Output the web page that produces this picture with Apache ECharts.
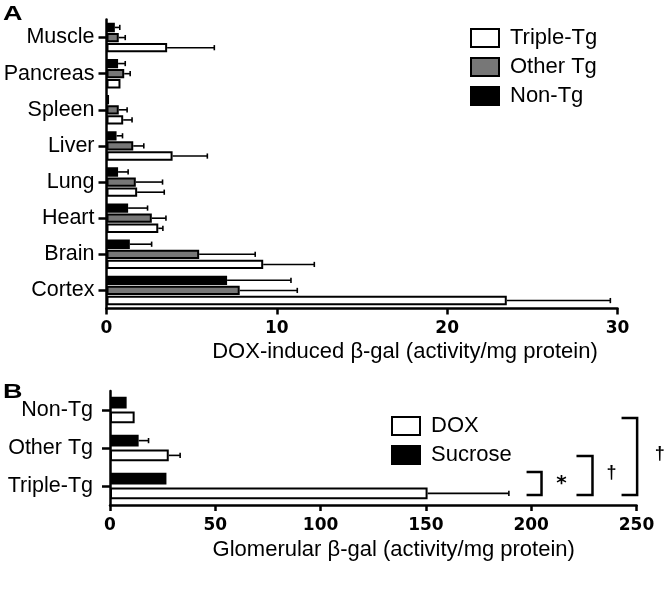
<!DOCTYPE html>
<html><head><meta charset="utf-8">
<script src="https://cdn.jsdelivr.net/npm/echarts@6/dist/echarts.min.js"></script>
<style>html,body{margin:0;padding:0;background:#fff}#c{width:671px;height:589px}</style>
</head><body><div id="c"></div>
<script>
// ---------- Panel A data ----------
const tissues = ['Muscle','Pancreas','Spleen','Liver','Lung','Heart','Brain','Cortex'];
const nonTgA      = [0.49, 0.68, 0.15, 0.59, 0.68, 1.27, 1.37, 7.08];
const nonTgAErr   = [0.29, 0.42, 0,    0.35, 0.59, 1.14, 1.28, 3.75];
const otherTgA    = [0.72, 1.04, 0.72, 1.57, 1.72, 2.66, 5.44, 7.82];
const otherTgAErr = [0.38, 0.35, 0.49, 0.62, 1.57, 0.83, 3.29, 3.38];
const tripleTgA   = [3.56, 0.82, 0.98, 3.88, 1.80, 3.04, 9.20, 23.5];
const tripleTgAErr= [2.77, 0,    0.52, 2.04, 1.59, 0.27, 3.00, 6.08];
const ticksA = [0, 10, 20, 30];
// ---------- Panel B data ----------
const groupsB = ['Non-Tg','Other Tg','Triple-Tg'];
const sucroseB    = [7.9, 13.6, 26.8];
const sucroseBErr = [0,   4.7,  0];
const doxB        = [11.7, 27.9, 150.8];
const doxBErr     = [0,    5.4,  38.6];
const ticksB = [0, 50, 100, 150, 200, 250];

const FONT = '"Liberation Sans", Arial, Helvetica, sans-serif';
const BFONT = '"DejaVu Sans", sans-serif';
const GAP_A = {cg: 0.18, bg: 0.08};
const GAP_B = {cg: 0.30, bg: 0.25};

function bar(name, data, color, idx, gap) {
  return {type: 'bar', name, data, xAxisIndex: idx, yAxisIndex: idx,
    barCategoryGap: (gap.cg * 100) + '%', barGap: (gap.bg * 100) + '%',
    itemStyle: {color, borderColor: '#000', borderWidth: 2}, silent: true, z: 2};
}
function err(name, vals, errs, k, n, idx, gap) {
  return {type: 'custom', name: name + ' SEM', xAxisIndex: idx, yAxisIndex: idx, z: 3, silent: true,
    data: vals.map((v, i) => [i, v, errs[i]]),
    encode: {x: 1, y: 0},
    renderItem(params, api) {
      const i = api.value(0), v = api.value(1), e = api.value(2);
      if (!e) return null;
      const band = api.size([0, 1])[1];
      const w = band * (1 - gap.cg) / (n + (n - 1) * gap.bg);
      const total = n * w + (n - 1) * w * gap.bg;
      const p0 = api.coord([v, i]);
      const p1 = api.coord([v + e, i]);
      const y = p0[1] - total / 2 + k * w * (1 + gap.bg) + w / 2;
      return {type: 'group', children: [
        {type: 'line', shape: {x1: p0[0], y1: y, x2: p1[0], y2: y}, style: {stroke: '#000', lineWidth: 1.6}},
        {type: 'line', shape: {x1: p1[0], y1: y - 2.6, x2: p1[0], y2: y + 2.6}, style: {stroke: '#000', lineWidth: 1.6}}
      ]};
    }};
}
function valueAxis(idx, ticks, name, nameGap, shift) {
  return {gridIndex: idx, type: 'value', min: ticks[0], max: ticks[ticks.length - 1], interval: ticks[1] - ticks[0],
    axisLine: {show: true, lineStyle: {color: '#000', width: 2.5}},
    axisTick: {show: true, length: 6, lineStyle: {color: '#000', width: 2.5}},
    axisLabel: {color: '#000', fontFamily: BFONT, fontWeight: 'bold', fontSize: 17, margin: 12},
    splitLine: {show: false},
    name, nameLocation: 'middle', nameGap,
    nameTextStyle: {fontFamily: FONT, fontSize: 22, color: '#000', padding: [0, 0, 0, shift]}};
}
function catAxis(idx, cats, margin) {
  return {gridIndex: idx, type: 'category', data: cats, inverse: true,
    axisLine: {show: true, lineStyle: {color: '#000', width: 2.5}},
    axisTick: {show: true, alignWithLabel: true, length: 8, lineStyle: {color: '#000', width: 2.5}},
    axisLabel: {color: '#000', fontFamily: FONT, fontSize: 21.5, margin}};
}
const legendBase = {orient: 'vertical', itemWidth: 28, itemHeight: 18, itemGap: 7, padding: 0, icon: 'rect',
  selectedMode: false, itemStyle: {borderColor: '#000', borderWidth: 2},
  textStyle: {fontFamily: FONT, fontSize: 22, color: '#000', padding: [0, 0, 0, 6]}};

const chart = echarts.init(document.getElementById('c'), null, {renderer: 'canvas'});
const letters = [
  {type: 'text', x: 3, y: 4.5, scaleX: 1.35, style: {text: 'A', font: 'bold 20px "Liberation Sans"', fill: '#000', verticalAlign: 'top'}},
  {type: 'text', x: 3, y: 382, scaleX: 1.35, style: {text: 'B', font: 'bold 20px "Liberation Sans"', fill: '#000', verticalAlign: 'top'}}
];
chart.setOption({
  animation: false,
  backgroundColor: '#fff',
  grid: [
    {left: 106.5, top: 19.5, width: 511, height: 289},
    {left: 110, top: 391, width: 526.5, height: 114}
  ],
  xAxis: [
    valueAxis(0, ticksA, 'DOX-induced β-gal (activity/mg protein)', 32, 86),
    valueAxis(1, ticksB, 'Glomerular β-gal (activity/mg protein)', 34, 41)
  ],
  yAxis: [catAxis(0, tissues, 12), catAxis(1, groupsB, 17)],
  legend: [
    Object.assign({}, legendBase, {data: ['Triple-Tg', 'Other Tg', 'Non-Tg'], left: 470, top: 27}),
    Object.assign({}, legendBase, {data: ['DOX', 'Sucrose'], left: 391, top: 415})
  ],
  series: [
    bar('Non-Tg', nonTgA, '#000', 0, GAP_A),
    bar('Other Tg', otherTgA, '#777', 0, GAP_A),
    bar('Triple-Tg', tripleTgA, '#fff', 0, GAP_A),
    err('Non-Tg', nonTgA, nonTgAErr, 0, 3, 0, GAP_A),
    err('Other Tg', otherTgA, otherTgAErr, 1, 3, 0, GAP_A),
    err('Triple-Tg', tripleTgA, tripleTgAErr, 2, 3, 0, GAP_A),
    bar('Sucrose', sucroseB, '#000', 1, GAP_B),
    bar('DOX', doxB, '#fff', 1, GAP_B),
    err('Sucrose', sucroseB, sucroseBErr, 0, 2, 1, GAP_B),
    err('DOX', doxB, doxBErr, 1, 2, 1, GAP_B)
  ],
  graphic: letters
});

// significance brackets for panel B, positioned through the axes
const finder = {xAxisIndex: 1, yAxisIndex: 1};
function px(x, cat, frac) {
  const c0 = chart.convertToPixel(finder, [x, 0]);
  const c1 = chart.convertToPixel(finder, [x, 1]);
  const band = Math.abs(c1[1] - c0[1]);
  const c = chart.convertToPixel(finder, [x, cat]);
  return [c[0], c[1] + frac * band];
}
function bracket(x0, x1, top, bot) {
  const a = px(x0, top[0], top[1]), b = px(x1, top[0], top[1]);
  const c = px(x1, bot[0], bot[1]), d = px(x0, bot[0], bot[1]);
  return {type: 'polyline', shape: {points: [a, b, c, d]},
    style: {stroke: '#000', lineWidth: 2.5, fill: null}};
}
function mark(text, x, cat, frac, font) {
  const p = px(x, cat, frac);
  return {type: 'text', x: p[0], y: p[1],
    style: {text, font, fill: '#000', align: 'center', verticalAlign: 'middle'}};
}
chart.setOption({graphic: letters.concat([
  bracket(197.8, 204.9, [2, -0.37], [2, 0.24]),
  bracket(221.5, 229.1, [1, 0.21], [2, 0.24]),
  bracket(242.9, 250.3, [0, 0.21], [2, 0.24]),
  mark('*', 214.4, 2, -0.06, 'bold 20px "DejaVu Sans"'),
  mark('†', 238.1, 2, -0.33, 'bold 18px "Liberation Sans"'),
  mark('†', 261, 1, 0.15, 'bold 18px "Liberation Sans"')
])});
</script>
</body></html>
